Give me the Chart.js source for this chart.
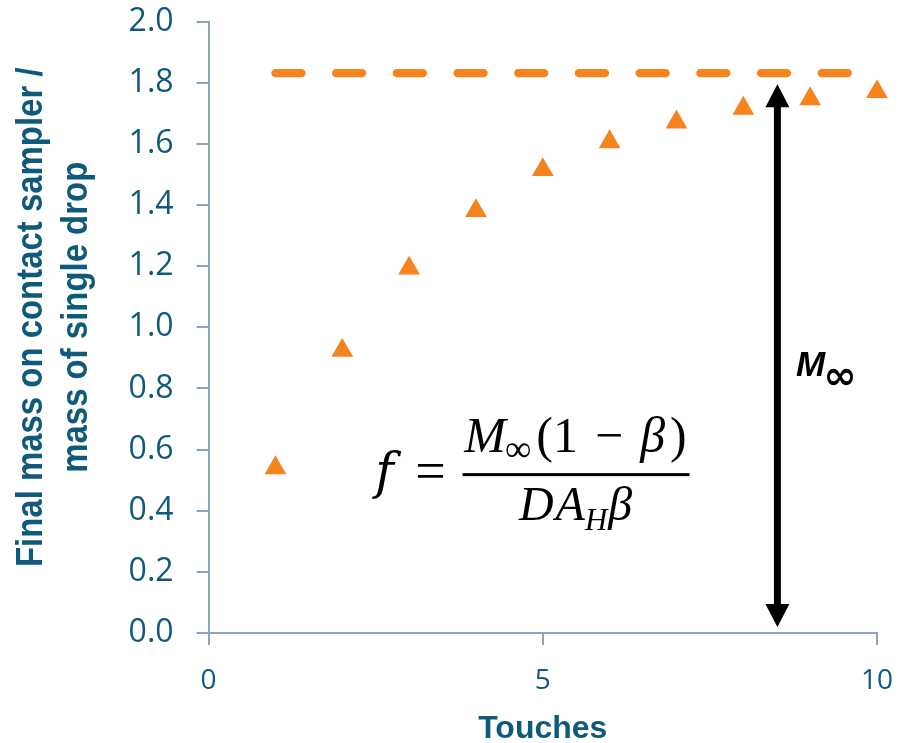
<!DOCTYPE html>
<html>
<head>
<meta charset="utf-8">
<title>Final mass on contact sampler</title>
<script src="https://cdn.jsdelivr.net/npm/chart.js@4.4.1/dist/chart.umd.min.js"></script>
<style>
  html, body { margin: 0; padding: 0; background: #fff; }
  #wrap { width: 905px; height: 743px; }
</style>
</head>
<body>
<div id="wrap"><canvas id="chart"></canvas></div>
<script>
const touches = [1, 2, 3, 4, 5, 6, 7, 8, 9, 10];
const massRatio = [0.54, 0.924, 1.193, 1.381, 1.515, 1.606, 1.671, 1.716, 1.747, 1.77];
const plateauX = [1, 10];
const plateauY = 1.831;
const xTicks = [0, 5, 10];
const yTicks = [0, 0.2, 0.4, 0.6, 0.8, 1.0, 1.2, 1.4, 1.6, 1.8, 2.0];
const yTitle = ['Final mass on contact sampler /', 'mass of single drop'];

// annotation anchors (data units)
const arrowX = 8.51;
const arrowBottom = 0.02;
const arrowTop = 1.795;
const mLabel = { x: 8.79, y: 0.841 };
const formula = { x: 5.49, y: 0.518 };

const teal = '#0F5A7B';
const orange = '#F5841F';
const axisGray = '#8EA3B8';

const overlay = {
  id: 'overlay',
  afterDatasetsDraw(chart) {
    const { ctx, scales: { x, y } } = chart;
    ctx.save();
    ctx.fillStyle = '#000';
    ctx.strokeStyle = '#000';

    // double headed arrow
    const ax = x.getPixelForValue(arrowX);
    const top = y.getPixelForValue(arrowTop);
    const bot = y.getPixelForValue(arrowBottom);
    const hw = 12, hh = 23;
    ctx.lineWidth = 7;
    ctx.beginPath();
    ctx.moveTo(ax, top + hh - 2);
    ctx.lineTo(ax, bot - hh + 2);
    ctx.stroke();
    ctx.beginPath();
    ctx.moveTo(ax, top);
    ctx.lineTo(ax - hw, top + hh);
    ctx.lineTo(ax + hw, top + hh);
    ctx.closePath();
    ctx.fill();
    ctx.beginPath();
    ctx.moveTo(ax, bot);
    ctx.lineTo(ax - hw, bot - hh);
    ctx.lineTo(ax + hw, bot - hh);
    ctx.closePath();
    ctx.fill();

    // M-infinity label
    const mx = x.getPixelForValue(mLabel.x);
    const my = y.getPixelForValue(mLabel.y);
    ctx.textAlign = 'left';
    ctx.textBaseline = 'alphabetic';
    ctx.font = 'italic bold 35px "Liberation Sans"';
    ctx.fillText('M', mx, my);
    const mw = ctx.measureText('M').width;
    ctx.font = 'bold 40px "DejaVu Sans"';
    ctx.fillText('\u221E', mx + mw - 2, my + 13);

    // formula f = M∞(1 − β) / (D A_H β)
    const fx = x.getPixelForValue(formula.x);
    const fy = y.getPixelForValue(formula.y);
    const serif = '"Liberation Serif", "DejaVu Serif", serif';
    const runWidth = parts => parts.reduce((w, p) => {
      ctx.font = p.f;
      return w + ctx.measureText(p.t).width + (p.gap || 0);
    }, 0);
    const drawRun = (parts, cx, base) => {
      let px = cx - runWidth(parts) / 2;
      parts.forEach(p => {
        ctx.font = p.f;
        ctx.fillText(p.t, px, base + (p.dy || 0));
        px += ctx.measureText(p.t).width + (p.gap || 0);
      });
    };
    const it = `italic 50px ${serif}`;
    const up = `50px ${serif}`;
    const dIt = `italic 48px ${serif}`;

    drawRun([
      { t: 'M', f: it, gap: -1 },
      { t: '\u221E', f: `37px ${serif}`, dy: 9, gap: 5 },
      { t: '(1', f: up, gap: 17 },
      { t: '\u2212', f: up, gap: 17 },
      { t: '\u03B2', f: it, gap: 5 },
      { t: ')', f: up }
    ], fx, fy - 23);
    drawRun([
      { t: 'D', f: dIt, gap: 2 },
      { t: 'A', f: dIt },
      { t: 'H', f: `italic 31px ${serif}`, dy: 10, gap: 1 },
      { t: '\u03B2', f: dIt }
    ], fx, fy + 45);

    ctx.fillRect(fx - 113, fy - 1.5, 227, 3);
    ctx.textAlign = 'center';
    ctx.font = 'italic 50px "DejaVu Serif"';
    ctx.fillText('f', fx - 191, fy + 13);
    ctx.font = `54px ${serif}`;
    ctx.fillText('=', fx - 145, fy + 14);
    ctx.restore();
  },
  afterDraw(chart) {
    // rotated, condensed y axis title
    const { ctx, chartArea } = chart;
    const cy = (chartArea.top + chartArea.bottom) / 2 - 10;
    ctx.save();
    ctx.fillStyle = teal;
    ctx.font = 'bold 37px "Liberation Sans"';
    ctx.textAlign = 'center';
    ctx.textBaseline = 'alphabetic';
    yTitle.forEach((line, i) => {
      ctx.save();
      ctx.translate(42 + i * 45, cy);
      ctx.rotate(-Math.PI / 2);
      ctx.scale(0.89, 1);
      ctx.fillText(line, 0, 0);
      ctx.restore();
    });
    ctx.restore();
  }
};

new Chart(document.getElementById('chart'), {
  type: 'scatter',
  data: {
    datasets: [
      {
        label: 'Plateau',
        type: 'line',
        data: plateauX.map(v => ({ x: v, y: plateauY })),
        borderColor: orange,
        borderWidth: 8.3,
        borderDash: [26, 34.7],
        borderCapStyle: 'round',
        pointRadius: 0,
        fill: false
      },
      {
        label: 'Measured',
        data: touches.map((t, i) => ({ x: t, y: massRatio[i] })),
        pointStyle: 'triangle',
        pointRadius: 12.6,
        pointHoverRadius: 12.6,
        backgroundColor: orange,
        borderWidth: 0,
        clip: false
      }
    ]
  },
  options: {
    responsive: true,
    maintainAspectRatio: false,
    animation: false,
    layout: { padding: { top: 21.5, right: 28, left: 0, bottom: 0 } },
    plugins: {
      legend: { display: false },
      tooltip: { enabled: false }
    },
    scales: {
      x: {
        type: 'linear',
        min: 0,
        max: 10,
        afterBuildTicks: s => { s.ticks = xTicks.map(v => ({ value: v })); },
        afterFit: s => { s.height = 110; s.paddingLeft = 0; s.paddingRight = 0; },
        grid: { drawOnChartArea: false, tickLength: 12, color: axisGray, lineWidth: 2 },
        border: { color: axisGray, width: 2 },
        ticks: {
          color: teal,
          padding: 19,
          font: { family: '"Open Sans", "Liberation Sans"', size: 28 }
        },
        title: {
          display: true,
          text: 'Touches',
          color: teal,
          padding: 0,
          font: { family: '"Liberation Sans"', size: 32, weight: 'bold', lineHeight: 0.86 }
        }
      },
      y: {
        min: 0,
        max: 2,
        afterBuildTicks: s => { s.ticks = yTicks.map(v => ({ value: v })); },
        afterFit: s => { s.width = 208.6; s.paddingTop = 0; s.paddingBottom = 0; },
        grid: { drawOnChartArea: false, tickLength: 12, color: axisGray, lineWidth: 2 },
        border: { color: axisGray, width: 2 },
        ticks: {
          color: teal,
          padding: 23,
          callback: v => v.toFixed(1),
          font: { family: '"Open Sans", "Liberation Sans"', size: 32 }
        }
      }
    }
  },
  plugins: [overlay]
});
</script>
</body>
</html>
